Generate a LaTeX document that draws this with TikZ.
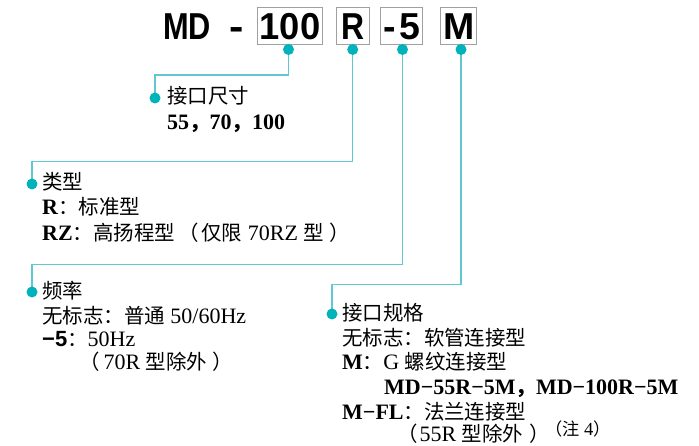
\documentclass[tikz,border=0pt]{standalone}
\usepackage{fontspec}
\usetikzlibrary{backgrounds}
\setmainfont{Liberation Serif}
\newfontfamily\cjkf{Noto Sans CJK SC}[Scale=0.93]
\newfontfamily\hdrf{Liberation Sans}
\newcommand\zh[1]{{\cjkf #1}}
\definecolor{dotc}{HTML}{00B2BA}
\definecolor{linec}{HTML}{5FC8D0}
\definecolor{boxc}{HTML}{A0A0A0}
\begin{document}
\begin{tikzpicture}[x=1pt,y=-1pt,
  txt/.style={anchor=base west, inner sep=0pt, font=\fontsize{22}{26}\selectfont},
  hdr/.style={anchor=base, inner sep=0pt, font=\hdrf\bfseries\fontsize{37.5}{40}\selectfont},
  codebox/.style={draw=boxc, line width=0.9pt, inner sep=0pt, minimum height=36.7pt},
  dot/.style={circle, fill=dotc, inner sep=0pt, minimum size=11pt},
  conn/.style={draw=linec, line width=1.3pt}]
\useasboundingbox (0,0) rectangle (699,446);

% header boxes
\node[codebox, minimum width=65pt] (b100) at (290.2,25.7) {};
\node[codebox, minimum width=33pt] (bR) at (352.5,25.7) {};
\node[codebox, minimum width=42pt] (b5) at (401,25.7) {};
\node[codebox, minimum width=36pt] (bM) at (458.7,25.7) {};

% header text
\node[hdr] (tMD) at (187,39.5) {\scalebox{0.82}[1]{MD}};
\node[hdr] (tdash) at (236.5,39.5) {\scalebox{1.15}[1]{-}};
\node[hdr] (t100) at (290,39.5) {\scalebox{0.97}[1]{100}};
\node[hdr] (tR) at (353,39.5) {\scalebox{0.85}[1]{R}};
\node[hdr] (t5) at (402,39.5) {-\kern3pt 5};
\node[hdr] (tM) at (459,39.5) {M};

% dots
\node[dot] (d100) at (288.5,49.5) {};
\node[dot] (dR) at (352.7,49.5) {};
\node[dot] (d5) at (402.5,49.5) {};
\node[dot] (dM) at (461,49.5) {};
\node[dot] (l100) at (155,98) {};
\node[dot] (lR) at (32,184) {};
\node[dot] (l5) at (32,292) {};
\node[dot] (lM) at (332,314) {};
\coordinate (k100) at (155,75);
\coordinate (kR) at (32,161.5);
\coordinate (k5) at (32,264.5);
\coordinate (kM) at (332,284.5);

\begin{scope}[on background layer]
\draw[conn] (d100.center) |- (k100) -- (l100.center);
\draw[conn] (dR.center) |- (kR) -- (lR.center);
\draw[conn] (d5.center) |- (k5) -- (l5.center);
\draw[conn] (dM.center) |- (kM) -- (lM.center);
\end{scope}

% list 1
\node[txt] (a1) at (167,104) {\zh{接口尺寸}};
\node[txt] (a2) at (167,130) {\textbf{55\zh{，}70\zh{，}100}};

% list 2
\node[txt] (b1) at (42,190) {\zh{类型}};
\node[txt] (b2) at (42,215) {\textbf{R}\zh{：标准型}};
\node[txt] (b3) at (42,241) {\textbf{RZ}\zh{：高扬程型\kern3pt（\kern3pt 仅限} 70RZ \zh{型\kern5pt）}};

% list 3
\node[txt] (c1) at (42,299) {\zh{频率}};
\node[txt] (c2) at (42,324) {\zh{无标志：普通} 50/60Hz};
\node[txt] (c3) at (42,347) {{\hdrf\bfseries −5}\zh{：}50Hz};
\node[txt] (c4) at (79,370) {\zh{（}\kern4pt 70R \zh{型除外\kern5pt）}};

% list 4
\node[txt] (e1) at (342,321) {\zh{接口规格}};
\node[txt] (e2) at (342,346) {\zh{无标志：软管连接型}};
\node[txt] (e3) at (342,370) {\textbf{M}\zh{：}G \zh{螺纹连接型}};
\node[txt] (e4) at (384,395) {\textbf{MD−55R−5M\zh{，}MD−100R−5M}};
\node[txt] (e5) at (342,419.5) {\textbf{M−FL}\zh{：法兰连接型}};
\node[txt] (e6) at (397,441) {\zh{（}\kern2pt 55R \zh{型除外\kern6pt）}};
\node[txt, font=\fontsize{18.5}{20}\selectfont] (e7) at (545,435.5) {\zh{（注} 4\zh{）}};
\end{tikzpicture}
\end{document}
